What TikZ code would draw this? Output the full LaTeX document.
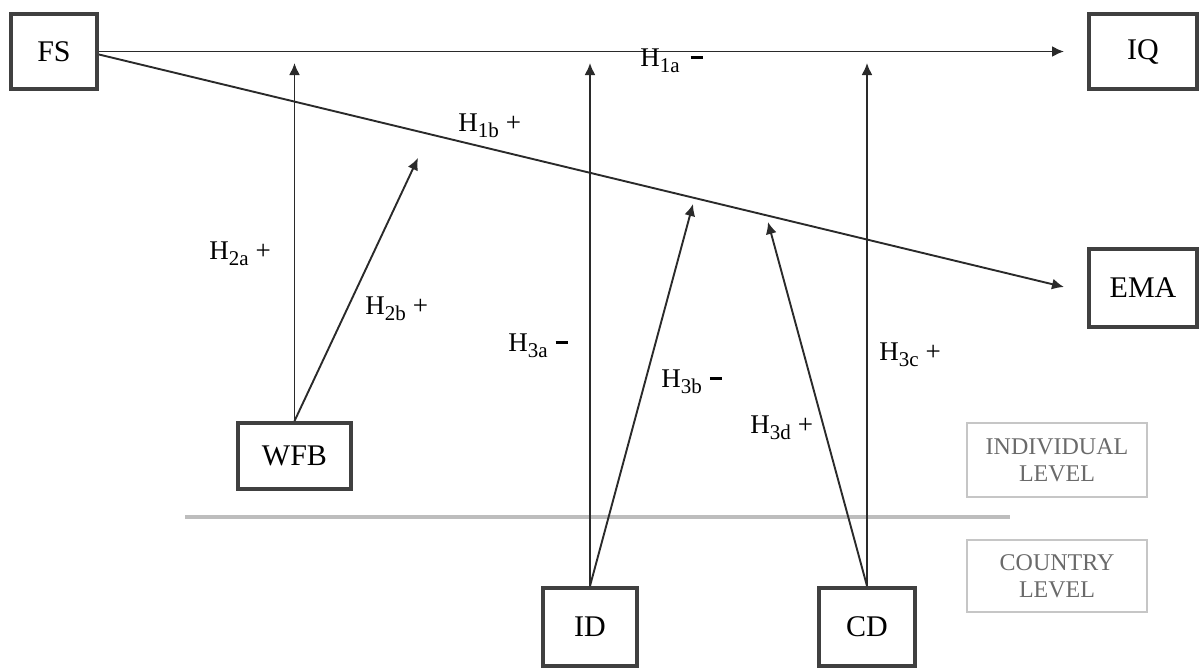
\documentclass[tikz,border=0pt]{standalone}
\usepackage{fontspec}
\setmainfont{Liberation Serif}
\usetikzlibrary{arrows.meta}
\definecolor{boxc}{HTML}{404040}
\definecolor{linec}{HTML}{2A2A2A}
\definecolor{lvl}{HTML}{C6C6C6}
\definecolor{divc}{HTML}{BDBDBD}
\definecolor{lvltext}{HTML}{6A6A6A}
\newcommand{\hsub}[1]{\raisebox{-3pt}{\fontsize{10.5}{10.5}\selectfont #1}}
\newcommand{\hminus}{\rule[3.5pt]{6pt}{1.5pt}}
\begin{document}
\begin{tikzpicture}[x=0.5pt,y=-0.5pt,
  varbox/.style={draw=boxc, line width=2pt, fill=white, inner sep=0pt,
    text=black, font=\fontsize{15}{18}\selectfont},
  lvlbox/.style={draw=lvl, line width=1pt, minimum width=90pt, inner sep=0pt,
    align=center, text=lvltext, font=\fontsize{12}{13.5}\selectfont},
  conn/.style={draw=linec, line width=0.95pt, -{Latex[length=6pt,width=5.5pt]}},
  hlabel/.style={anchor=base west, inner sep=0pt, text=black,
    font=\fontsize{13.5}{15}\selectfont}]
\useasboundingbox (0,0) rectangle (1200,669);

% divider
\draw[divc, line width=2pt] (185,517) -- (1010,517);

% variable boxes
\node[varbox, minimum width=43pt, minimum height=37.5pt] (FS) at (54,51.5) {FS};
\node[varbox, minimum width=54pt, minimum height=37.5pt] (IQ) at (1143,51.5) {IQ};
\node[varbox, minimum width=54pt, minimum height=39pt] (EMA) at (1143,288) {EMA};
\node[varbox, minimum width=56.5pt, minimum height=33pt] (WFB) at (294.5,456) {WFB};
\node[varbox, minimum width=47pt, minimum height=39pt] (ID) at (590,627) {ID};
\node[varbox, minimum width=48pt, minimum height=39pt] (CD) at (867,627) {CD};

% level boxes
\node[lvlbox, minimum height=37pt] (IL) at (1057,460) {INDIVIDUAL\\LEVEL};
\node[lvlbox, minimum height=36pt] (CL) at (1057,576) {COUNTRY\\LEVEL};

% arrow targets
\coordinate (IQin) at (1064,51.5);
\coordinate (EMAin) at (1064,287);
\coordinate (t1) at (294.5,63);
\coordinate (t2) at (418,158);
\coordinate (t3) at (590,63);
\coordinate (t4) at (693,204);
\coordinate (t5) at (867,63);
\coordinate (t6) at (768,222);

% connectors
\draw[conn] (FS.east) -- (IQin);
\draw[conn] ([yshift=-1.5pt]FS.east) -- (EMAin);
\draw[conn] (WFB.north) -- (t1);
\draw[conn] (WFB.north) -- (t2);
\draw[conn] (ID.north) -- (t3);
\draw[conn] (ID.north) -- (t4);
\draw[conn] (CD.north) -- (t5);
\draw[conn] (CD.north) -- (t6);

% hypothesis labels
\node[hlabel] (h1a) at (640,66) {H\hsub{1a}\hspace{5.5pt}\hminus};
\node[hlabel] (h1b) at (458,131) {H\hsub{1b}\hspace{3.5pt}+};
\node[hlabel] (h2a) at (209,259) {H\hsub{2a}\hspace{3.5pt}+};
\node[hlabel] (h2b) at (365,314) {H\hsub{2b}\hspace{3.5pt}+};
\node[hlabel] (h3a) at (508,351) {H\hsub{3a}\hspace{4pt}\hminus};
\node[hlabel] (h3b) at (661,387) {H\hsub{3b}\hspace{4pt}\hminus};
\node[hlabel] (h3c) at (879,360) {H\hsub{3c}\hspace{3.5pt}+};
\node[hlabel] (h3d) at (750,433) {H\hsub{3d}\hspace{3.5pt}+};
\end{tikzpicture}
\end{document}
